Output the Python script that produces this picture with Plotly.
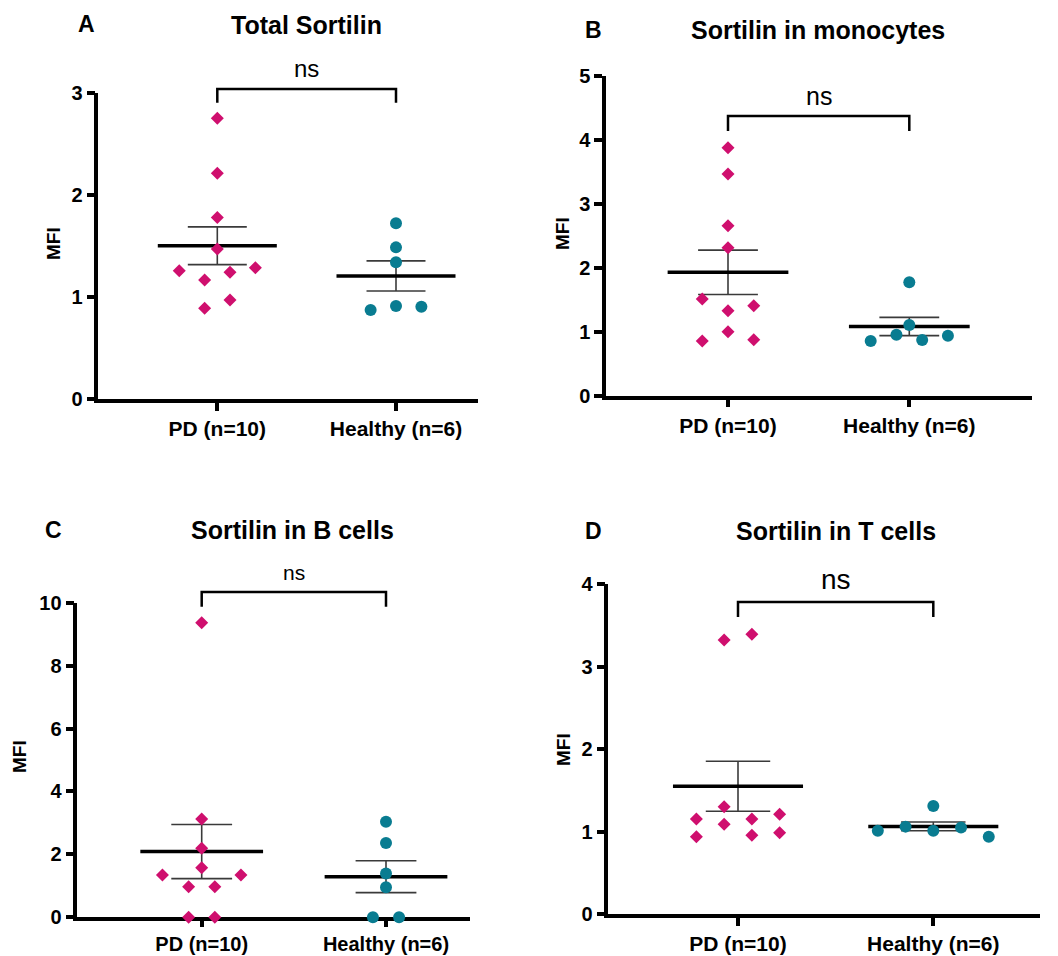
import numpy as np
import plotly.graph_objects as go

# page has an 8px body margin; the figure is offset by it
VIEW_W, VIEW_H = 1058, 956
BODY = 8
W, H = VIEW_W - 2 * BODY, VIEW_H - BODY

# ---------------- data ----------------
categories = ["PD (n=10)", "Healthy (n=6)"]
panel_letters = ["A", "B", "C", "D"]
panel_titles = ["Total Sortilin", "Sortilin in monocytes", "Sortilin in B cells", "Sortilin in T cells"]
significance = ["ns", "ns", "ns", "ns"]
y_axis_title = "MFI"

total_pd = [2.754, 2.215, 1.780, 1.472, 1.259, 1.168, 1.243, 1.289, 0.890, 0.972]
total_healthy = [1.724, 1.488, 1.341, 0.873, 0.913, 0.906]
mono_pd = [3.875, 3.464, 2.656, 2.313, 1.510, 1.328, 1.406, 0.854, 1.000, 0.875]
mono_healthy = [1.771, 1.104, 0.854, 0.953, 0.870, 0.938]
bcell_pd = [9.364, 3.125, 2.193, 1.578, 1.345, 0.975, 0.975, 1.345, 0.0, 0.0]
bcell_healthy = [3.040, 2.360, 1.390, 0.953, 0.0, 0.0]
tcell_pd = [3.325, 3.393, 1.153, 1.302, 1.153, 1.209, 0.938, 1.088, 0.954, 0.987]
tcell_healthy = [1.310, 1.011, 1.060, 1.011, 1.048, 0.938]

y_max = [3, 5, 10, 4]
y_dtick = [1, 1, 2, 1]

# ---------------- layout geometry (window pixels) ----------------
panels = [
    dict(pd=total_pd, hc=total_healthy, left=98.3, right=478, top=93.3, bottom=399, c0=217.3, c1=396,
         br_y=89, br_leg=102.7, ns_y=68, ns_size=24, title_xy=(306, 25), letter_xy=(86, 24), mfi_xy=(53, 244),
         xtick_len=8, xtick_size=21),
    dict(pd=mono_pd, hc=mono_healthy, left=606, right=1032, top=75.7, bottom=395.7, c0=728, c1=909.3,
         br_y=116, br_leg=131, ns_y=96, ns_size=25, title_xy=(818, 30), letter_xy=(593, 30), mfi_xy=(563, 234),
         xtick_len=8, xtick_size=21),
    dict(pd=bcell_pd, hc=bcell_healthy, left=77.3, right=470, top=602.7, bottom=917.3, c0=201.7, c1=386,
         br_y=592, br_leg=606.7, ns_y=572, ns_size=21, title_xy=(292, 530), letter_xy=(53, 530), mfi_xy=(19, 757),
         xtick_len=6, xtick_size=20),
    dict(pd=tcell_pd, hc=tcell_healthy, left=608.3, right=1040, top=584.3, bottom=914, c0=738, c1=933.3,
         br_y=602, br_leg=617, ns_y=579, ns_size=28, title_xy=(836, 531), letter_xy=(593, 531), mfi_xy=(563, 750),
         xtick_len=8, xtick_size=21),
]

PINK = "#CF0F6E"
TEAL = "#097C91"
FONT = "Arial, Liberation Sans, Helvetica, sans-serif"
SLOT = 0.142
MEAN_HALF = 0.333
CAP_HALF = 0.165


def px_x(px):
    return (px - BODY) / W


def px_y(py):
    return 1 - (py - BODY) / H


def swarm_offsets(vals, ppu, thresh_px=13.05, slot=SLOT):
    vals = np.asarray(vals, float)
    order = np.argsort(vals, kind="stable")
    groups = []
    for i in order:
        if groups and (vals[i] - vals[groups[-1][0]]) * ppu <= thresh_px:
            groups[-1].append(i)
        else:
            groups.append([i])
    off = np.zeros(len(vals))
    for g in groups:
        g = sorted(g)
        n = len(g)
        for k, i in enumerate(g):
            off[i] = (k - (n - 1) / 2) * slot
    return off


fig = go.Figure()
layout = dict(
    template="none",
    width=W, height=H, margin=dict(l=0, r=0, t=0, b=0, pad=0, autoexpand=False),
    paper_bgcolor="white", plot_bgcolor="white", showlegend=False,
    font=dict(family=FONT, color="black"),
)
shapes = []
annotations = []

for k, p in enumerate(panels):
    n = k + 1
    xa = "x" if n == 1 else f"x{n}"
    ya = "y" if n == 1 else f"y{n}"
    cat_px = p["c1"] - p["c0"]
    xr = [(p["left"] - p["c0"]) / cat_px, (p["right"] - p["c0"]) / cat_px]
    ppu = (p["bottom"] - p["top"]) / y_max[k]

    groups = [(p["pd"], PINK, "diamond", 10), (p["hc"], TEAL, "circle", 12)]
    for gi, (vals, col, sym, sz) in enumerate(groups):
        v = np.asarray(vals, float)
        m = v.mean()
        sem = v.std(ddof=1) / np.sqrt(len(v))
        c = gi
        fig.add_trace(go.Scatter(
            x=[c, c, None, c - CAP_HALF, c + CAP_HALF, None, c - CAP_HALF, c + CAP_HALF],
            y=[m - sem, m + sem, None, m + sem, m + sem, None, m - sem, m - sem],
            mode="lines", line=dict(color="#3a3a3a", width=1.6), xaxis=xa, yaxis=ya,
            hoverinfo="skip"))
        fig.add_trace(go.Scatter(
            x=[c - MEAN_HALF, c + MEAN_HALF], y=[m, m], mode="lines",
            line=dict(color="black", width=3.5), xaxis=xa, yaxis=ya, hoverinfo="skip"))
    for gi, (vals, col, sym, sz) in enumerate(groups):
        off = swarm_offsets(vals, ppu)
        fig.add_trace(go.Scatter(
            x=gi + off, y=vals, mode="markers", cliponaxis=False,
            marker=dict(symbol=sym, size=sz, color=col, line=dict(width=0)),
            xaxis=xa, yaxis=ya, name=categories[gi]))

    axis_common = dict(showline=True, linecolor="black", linewidth=3.5, ticks="outside",
                       tickwidth=3.5, tickcolor="black", showgrid=False,
                       zeroline=False, layer="below traces", fixedrange=True, automargin=False)
    layout["xaxis" if n == 1 else f"xaxis{n}"] = dict(
        axis_common, domain=[px_x(p["left"]), px_x(p["right"])], range=xr,
        ticklen=p["xtick_len"],
        tickmode="array", tickvals=[0, 1], ticktext=categories,
        tickfont=dict(family=FONT, size=p["xtick_size"], color="black", weight="bold"),
        anchor=ya)
    layout["yaxis" if n == 1 else f"yaxis{n}"] = dict(
        axis_common, domain=[px_y(p["bottom"]), px_y(p["top"])], range=[0, y_max[k]],
        ticklen=8, tickmode="linear", dtick=y_dtick[k], tick0=0,
        tickfont=dict(family=FONT, size=20, color="black", weight="bold"),
        anchor=xa)

    x0p, x1p = px_x(p["c0"]), px_x(p["c1"])
    yt, yl = px_y(p["br_y"]), px_y(p["br_leg"])
    shapes.append(dict(type="path", xref="paper", yref="paper",
                       path=f"M {x0p},{yl} L {x0p},{yt} L {x1p},{yt} L {x1p},{yl}",
                       line=dict(color="black", width=2.5)))
    annotations.append(dict(text=significance[k], xref="paper", yref="paper",
                            x=px_x((p["c0"] + p["c1"]) / 2), y=px_y(p["ns_y"]),
                            showarrow=False, xanchor="center", yanchor="middle",
                            font=dict(family=FONT, size=p["ns_size"], color="black")))
    annotations.append(dict(text=panel_titles[k], xref="paper", yref="paper",
                            x=px_x(p["title_xy"][0]), y=px_y(p["title_xy"][1]),
                            showarrow=False, xanchor="center", yanchor="middle",
                            font=dict(family=FONT, size=25, color="black", weight="bold")))
    annotations.append(dict(text=panel_letters[k], xref="paper", yref="paper",
                            x=px_x(p["letter_xy"][0]), y=px_y(p["letter_xy"][1]),
                            showarrow=False, xanchor="center", yanchor="middle",
                            font=dict(family=FONT, size=23, color="black", weight="bold")))
    annotations.append(dict(text=y_axis_title, xref="paper", yref="paper", textangle=-90,
                            x=px_x(p["mfi_xy"][0]), y=px_y(p["mfi_xy"][1]),
                            showarrow=False, xanchor="center", yanchor="middle",
                            font=dict(family=FONT, size=19, color="black", weight="bold")))

layout["shapes"] = shapes
layout["annotations"] = annotations
fig.update_layout(**layout)
fig.write_html("out.html")
